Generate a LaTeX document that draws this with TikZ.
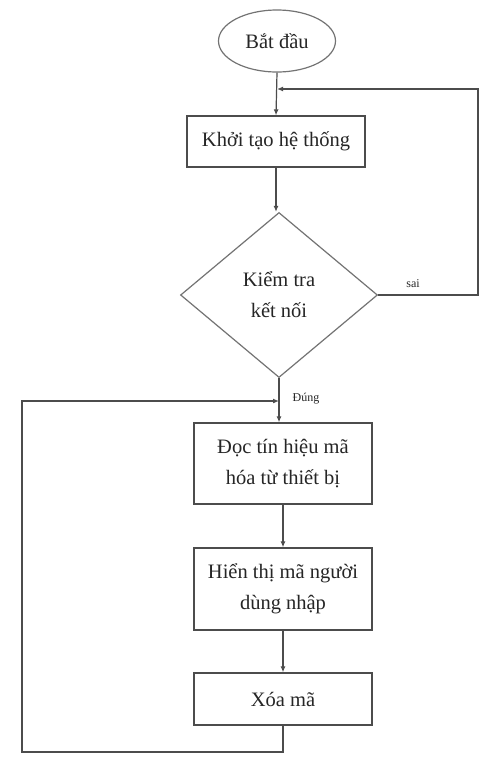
\documentclass[tikz,border=0pt]{standalone}
\usepackage{fontspec}
\setmainfont{Liberation Serif}
\usetikzlibrary{shapes.geometric,arrows.meta}
\begin{document}
\begin{tikzpicture}[x=1pt,y=-1pt,
  every node/.style={inner sep=0pt, text=black!85},
  bigtext/.style={font=\fontsize{20.5}{31}\selectfont, align=center},
  procbox/.style={draw=black!70, line width=1.3pt, rectangle, minimum width=178pt, bigtext},
  startshape/.style={draw=black!55, line width=1.2pt, ellipse, minimum width=117pt, minimum height=62pt, bigtext},
  decision/.style={draw=black!55, line width=1.2pt, diamond, minimum width=197pt, minimum height=165pt, bigtext},
  lbl/.style={font=\fontsize{12}{14}\selectfont},
  conn/.style={draw=black!70, line width=1.2pt},
  arr/.style={conn, -{Latex[length=6pt,width=5pt]}}
]
\useasboundingbox (0,0) rectangle (486,758);
\fill[white] (0,0) rectangle (486,758);

\node[startshape] (start) at (277,41) {Bắt đầu};
\node[procbox, minimum height=51pt] (init) at (276,141.5) {Khởi tạo hệ thống};
\node[decision] (check) at (279,295) {Kiểm tra\\kết nối};
\node[procbox, minimum height=81pt] (read) at (283,463.5) {Đọc tín hiệu mã\\hóa từ thiết bị};
\node[procbox, minimum height=82pt] (show) at (283,589) {Hiển thị mã người\\dùng nhập};
\node[procbox, minimum height=52pt] (clear) at (283,699) {Xóa mã};

\coordinate (j1) at (277,89);
\coordinate (tr) at (478,89);
\coordinate (j2) at (279,401);
\coordinate (bl) at (22,752);

\draw[arr] (start.south) -- (init.north);
\draw[arr] (init.south) -- (init.south |- check.north);
\draw[arr] (check.east) -| (tr) -- (j1);
\draw[arr] (check.south) -- (check.south |- read.north);
\draw[arr] (read.south) -- (show.north);
\draw[arr] (show.south) -- (clear.north);
\draw[arr] (clear.south) |- (bl) |- (j2);

\node[lbl] (sai) at (413,284) {sai};
\node[lbl] (dung) at (306,399) {Đúng};
\end{tikzpicture}
\end{document}
